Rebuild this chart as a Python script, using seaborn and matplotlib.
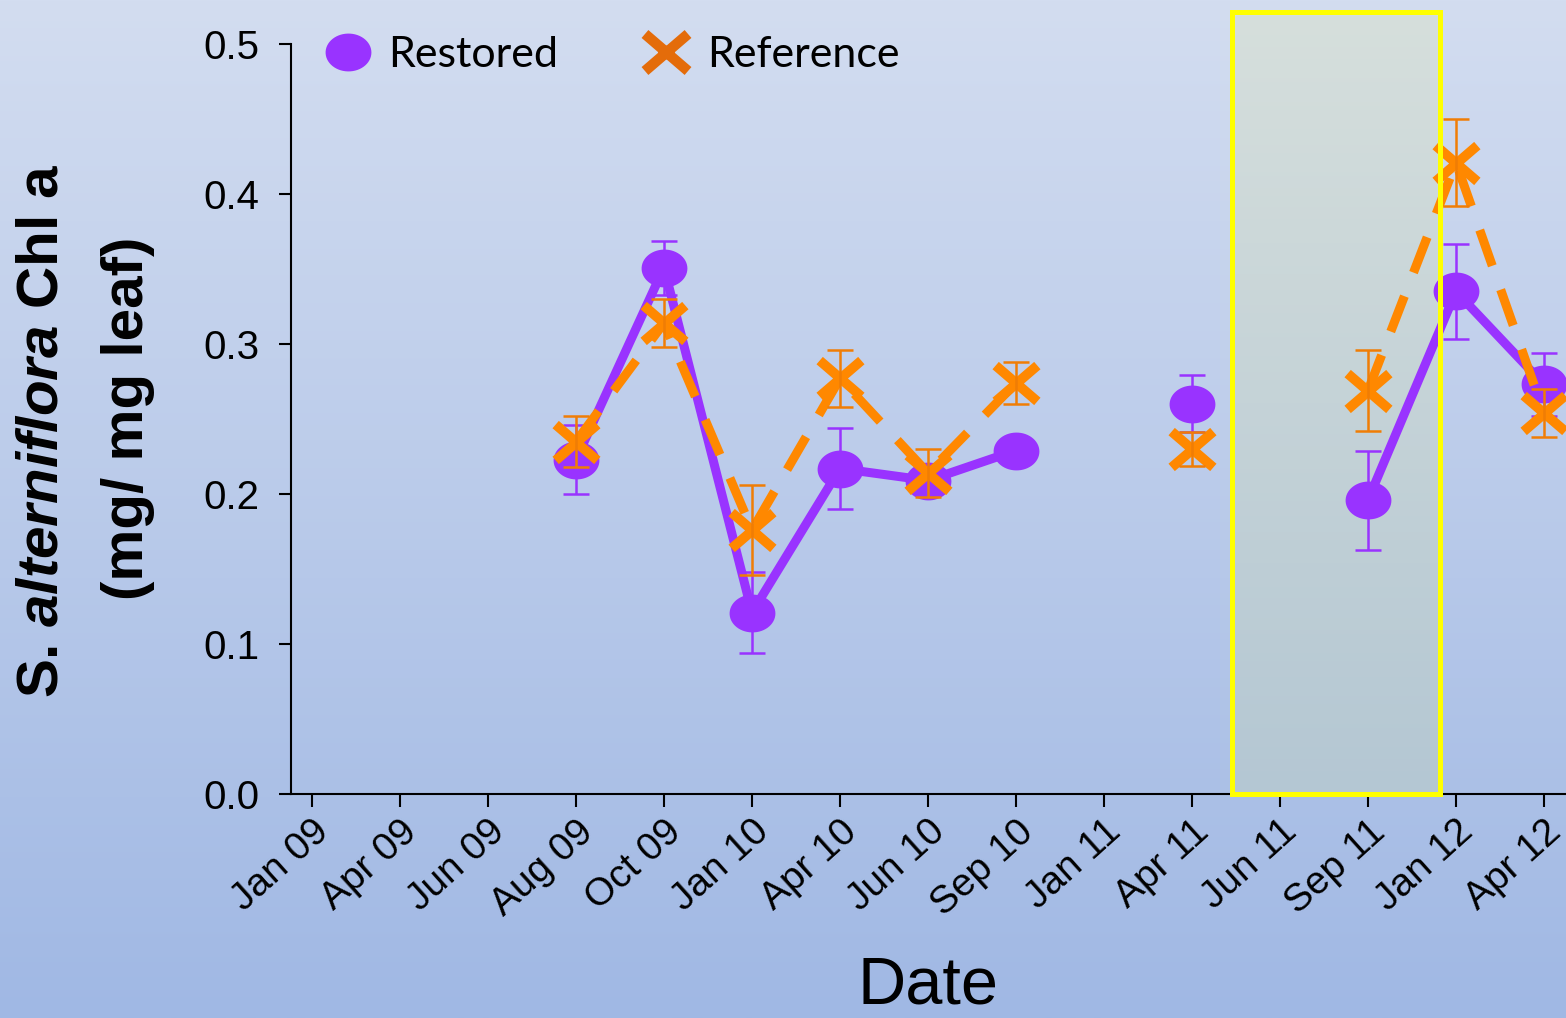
import numpy as np
import pandas as pd
import matplotlib
matplotlib.use("Agg")
import matplotlib.pyplot as plt
import seaborn as sns
from matplotlib.path import Path
from matplotlib.patches import Rectangle
from matplotlib.lines import Line2D

# ---- data -------------------------------------------------------------
dates = ["Jan 09", "Apr 09", "Jun 09", "Aug 09", "Oct 09", "Jan 10", "Apr 10",
         "Jun 10", "Sep 10", "Jan 11", "Apr 11", "Jun 11", "Sep 11", "Jan 12",
         "Apr 12"]
nan = np.nan
restored = [nan, nan, nan, 0.223, 0.351, 0.121, 0.217, 0.209, 0.229, nan,
            0.260, nan, 0.196, 0.335, 0.273]
restored_err = [nan, nan, nan, 0.023, 0.018, 0.027, 0.027, 0.008, 0.006, nan,
                0.019, nan, 0.033, 0.032, 0.021]
reference = [nan, nan, nan, 0.235, 0.314, 0.176, 0.277, 0.214, 0.274, nan,
             0.230, nan, 0.269, 0.421, 0.254]
reference_err = [nan, nan, nan, 0.017, 0.016, 0.030, 0.019, 0.016, 0.014, nan,
                 0.011, nan, 0.027, 0.029, 0.016]
shade_span = (10.455, 12.818)   # Jun 11 - Dec 11 window (category units)

PURPLE = "#9933ff"
ORANGE = "#ff8800"
ORANGE_BAR = "#f07d05"
ORANGE_LEG = "#e46c0a"

# ---- style ------------------------------------------------------------
sns.set_theme(style="ticks")
plt.rcParams["font.family"] = ["Liberation Sans", "DejaVu Sans"]
plt.rcParams["text.color"] = "black"
plt.rcParams["mathtext.fontset"] = "custom"
plt.rcParams["mathtext.bfit"] = "Liberation Sans:bold:italic"
plt.rcParams["mathtext.it"] = "Liberation Sans:italic"
plt.rcParams["mathtext.rm"] = "Liberation Sans:bold"
plt.rcParams["mathtext.bf"] = "Liberation Sans:bold"

W, H = 1566, 1018
fig = plt.figure(figsize=(W / 100, H / 100), dpi=100)

# vertical gradient behind everything
bg = fig.add_axes([0, 0, 1, 1], zorder=-10)
bg.axis("off")
top = np.array([211, 221, 240]) / 255
bot = np.array([160, 184, 228]) / 255
t = np.linspace(0, 1, 400)[:, None, None]
bg.imshow(top + (bot - top) * t, aspect="auto", extent=[0, 1, 0, 1])
bg.set_xlim(0, 1)
bg.set_ylim(0, 1)

ax = fig.add_axes([291 / W, 224 / H, 1 - 291 / W, 750 / H])
ax.patch.set_alpha(0)

x = np.arange(len(dates))


def segments(values):
    vals = np.asarray(values, dtype=float)
    seg = np.cumsum(np.isnan(vals))
    df = pd.DataFrame({"pos": x, "value": vals, "segment": seg})
    return df.dropna()


# ellipse marker for the restored site
th = np.linspace(0, 2 * np.pi, 60)
ellipse = Path(np.column_stack([0.5 * np.cos(th), 0.413 * np.sin(th)]), closed=True)
# cross marker for the reference site
cross = Path([(-0.5, -0.43), (0.5, 0.43), (-0.5, 0.43), (0.5, -0.43)],
             [Path.MOVETO, Path.LINETO, Path.MOVETO, Path.LINETO])

# shaded window
y_top = 0.5213
t2 = np.linspace(0, 1, 200)[:, None, None]
s_top = np.array([214, 223, 220]) / 255
s_bot = np.array([180, 199, 211]) / 255
ax.imshow(s_top + (s_bot - s_top) * t2, aspect="auto",
          extent=[shade_span[0], shade_span[1], 0, y_top],
          zorder=0.5, clip_on=False)

# restored series
sns.lineplot(data=segments(restored), x="pos", y="value", units="segment",
             estimator=None, sort=False, color=PURPLE, lw=6.5, ax=ax,
             legend=False, zorder=3)
ax.plot(x, restored, ls="none", marker=ellipse, ms=33, mfc=PURPLE,
        mec="none", zorder=4)
ax.errorbar(x, restored, yerr=restored_err, fmt="none", ecolor=PURPLE,
            elinewidth=1.8, capsize=9.4, capthick=1.8, zorder=4.5)

# reference series
sns.lineplot(data=segments(reference), x="pos", y="value", units="segment",
             estimator=None, sort=False, color=ORANGE, lw=6.5, ax=ax,
             legend=False, zorder=5, linestyle=(0, (4.2, 2.8)))
ax.plot(x, reference, ls="none", marker=cross, ms=30, mfc="none",
        mec=ORANGE, mew=7, zorder=6)
ax.errorbar(x, reference, yerr=reference_err, fmt="none", ecolor=ORANGE_BAR,
            elinewidth=1.8, capsize=9.4, capthick=1.8, zorder=6.5)

# yellow outline of the window
ax.add_patch(Rectangle((shade_span[0], 0), shade_span[1] - shade_span[0], y_top,
                       fill=False, edgecolor="#ffff00", lw=3.6, zorder=8,
                       clip_on=False))

# axes
ax.set_xlim(-0.2386, 14.25)
ax.set_ylim(0, 0.5)
ax.set_xticks(x)
ax.set_xticklabels(dates, rotation=42, ha="right", va="top",
                   rotation_mode="anchor", fontsize=28)
yt = np.round(np.arange(0, 0.51, 0.1), 1)
ax.set_yticks(yt)
ax.set_yticklabels([f"{v:.1f}" for v in yt], fontsize=29)
ax.tick_params(axis="both", direction="out", length=9, width=1.5,
               color="black", labelcolor="black")
ax.tick_params(axis="y", pad=14)
ax.tick_params(axis="x", pad=5)
for side in ("top", "right"):
    ax.spines[side].set_visible(False)
for side in ("left", "bottom"):
    ax.spines[side].set_color("black")
    ax.spines[side].set_linewidth(1.5)
ax.set_xlabel("")
ax.set_ylabel("")

# axis titles
fig.text(928 / W, 1 / H, "Date", ha="center", va="bottom",
         fontsize=48, color="black")
fig.text(43 / W, (H - 431) / H, "S. $\\mathbfit{alterniflora}$ Chl a",
         rotation=90, ha="center", va="center", fontsize=42,
         fontweight="bold", color="black")
fig.text(128 / W, (H - 418) / H, "(mg/ mg leaf)",
         rotation=90, ha="center", va="center", fontsize=42,
         fontweight="bold", color="black")

# legend
handles = [Line2D([], [], ls="none", marker=ellipse, ms=33, mfc=PURPLE, mec="none"),
           Line2D([], [], ls="none", marker=cross, ms=31, mfc="none",
                  mec=ORANGE_LEG, mew=7.5)]
leg = ax.legend(handles, ["Restored", "Reference"], loc="center left",
                bbox_to_anchor=(326 / W, (H - 55) / H),
                bbox_transform=fig.transFigure, ncol=2, frameon=False,
                prop={"family": "Lato", "size": 31},
                handlelength=1.0, handletextpad=0.45, columnspacing=2.0,
                borderpad=0, borderaxespad=0)
for txt in leg.get_texts():
    txt.set_color("black")

fig.savefig("out.png", dpi=100)
